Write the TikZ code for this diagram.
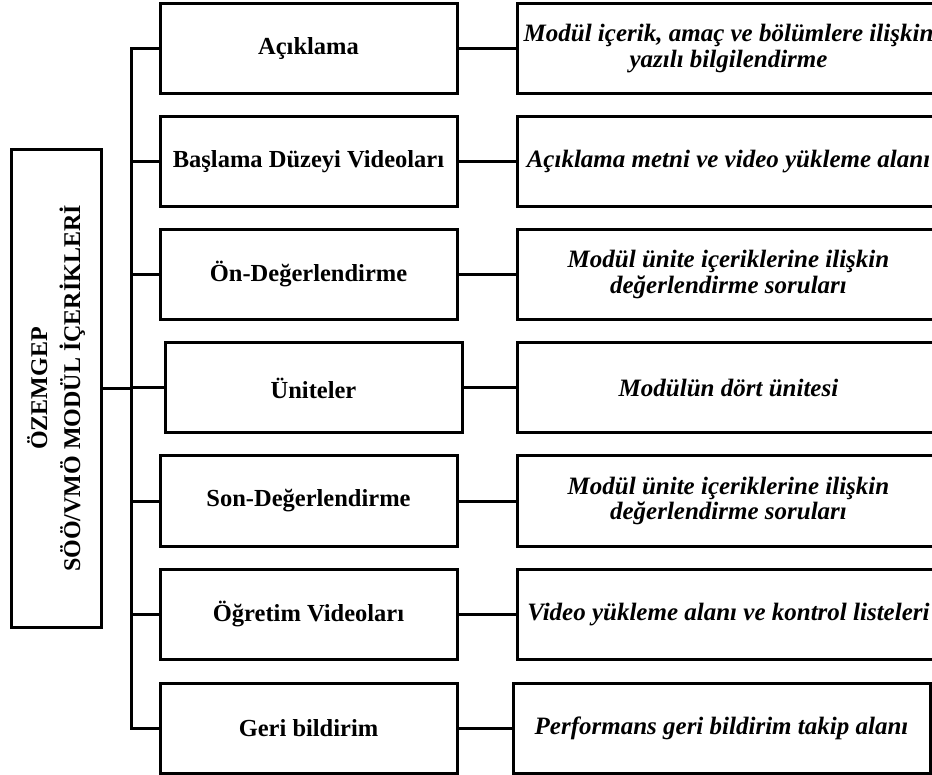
\documentclass[tikz,border=0pt]{standalone}
\usepackage{fontspec}
\setmainfont{Liberation Serif}
\begin{document}
\begin{tikzpicture}[x=1pt,y=-1pt,
  box/.style={draw, line width=3pt, rectangle, inner sep=0pt, minimum height=90pt, align=center,
    font=\fontsize{24.5}{25}\selectfont\bfseries},
  mid/.style={box, minimum width=297pt},
  info/.style={box, minimum width=423pt, font=\fontsize{25}{25.5}\selectfont\bfseries\itshape},
  conn/.style={line width=3pt}]
\useasboundingbox (0,0) rectangle (932,775);
\clip (0,0) rectangle (932,775);

\node[draw, line width=3pt, rectangle, inner sep=0pt, minimum width=477pt, minimum height=90pt,
  rotate=90, align=center, font=\fontsize{24}{33}\selectfont\bfseries] (left) at (56,388.5)
  {ÖZEMGEP\\SÖÖ/VMÖ MODÜL İÇERİKLERİ};

\node[mid] (m1) at (308.5,48.5) {Açıklama};
\node[mid] (m2) at (308.5,162) {Başlama Düzeyi Videoları};
\node[mid] (m3) at (308.5,274.5) {Ön-Değerlendirme};
\node[mid] (m4) at (313.5,388) {Üniteler};
\node[mid] (m5) at (308.5,501) {Son-Değerlendirme};
\node[mid] (m6) at (308.5,614.5) {Öğretim Videoları};
\node[mid] (m7) at (308.5,728) {Geri bildirim};

\node[info] (r1) at (728.5,48.5) {Modül içerik, amaç ve bölümlere ilişkin\\yazılı bilgilendirme};
\node[info] (r2) at (728.5,162) {Açıklama metni ve video yükleme alanı};
\node[info] (r3) at (728.5,274.5) {Modül ünite içeriklerine ilişkin\\değerlendirme soruları};
\node[info] (r4) at (728.5,388) {Modülün dört ünitesi};
\node[info] (r5) at (728.5,501) {Modül ünite içeriklerine ilişkin\\değerlendirme soruları};
\node[info] (r6) at (728.5,614.5) {Video yükleme alanı ve kontrol listeleri};
\node[info, minimum width=417pt] (r7) at (721.5,728) {Performans geri bildirim takip alanı};

\coordinate (sp) at (131,0);
\draw[conn] (m1.west) -| (m7.west -| sp) -- (m7.west);
\foreach \i in {2,...,6} {\draw[conn] (m\i.west -| sp) -- (m\i.west);}
\draw[conn] (left.south) -- (left.south -| sp);
\foreach \i in {1,...,7} {\draw[conn] (m\i.east) -- (r\i.west);}
\end{tikzpicture}
\end{document}
